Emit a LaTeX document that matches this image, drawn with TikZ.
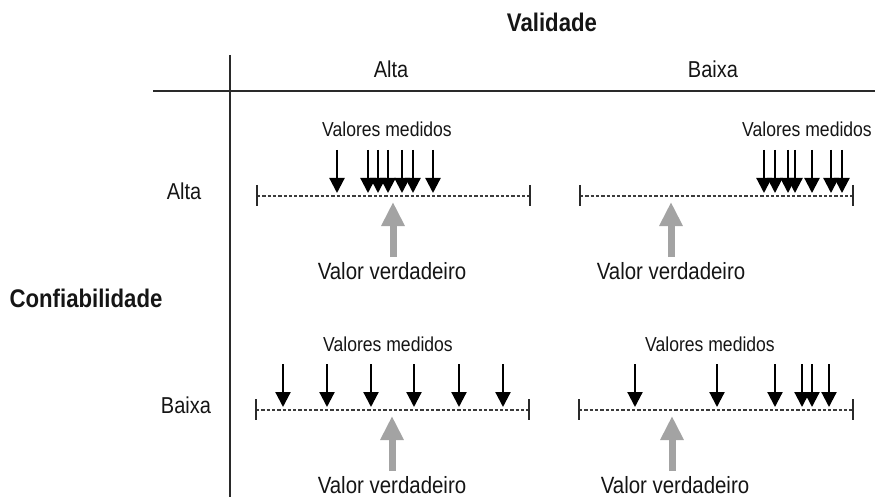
\documentclass[tikz,border=0pt]{standalone}
\usepackage{fontspec}
\setmainfont{Liberation Sans}[FakeStretch=0.87]
\usetikzlibrary{arrows.meta,calc}
\definecolor{txt}{HTML}{151515}
\definecolor{axis}{HTML}{2A2A2A}
\definecolor{dash}{HTML}{3C3C3C}
\definecolor{truegray}{HTML}{A3A3A3}
\tikzset{
  lbl/.style={inner sep=0pt, anchor=base, text=txt},
  meas/.style={lbl, font=\fontsize{20.2}{22}\selectfont},
  truelbl/.style={lbl, font=\fontsize{23.5}{26}\selectfont},
  head/.style={lbl, font=\fontsize{23}{26}\selectfont},
  title/.style={lbl, font=\bfseries\fontsize{25.5}{28}\selectfont},
  axisline/.style={draw=axis, line width=2pt},
  scaleline/.style={draw=dash, line width=1.4pt, dash pattern=on 3.3pt off 2pt},
  endtick/.style={draw=axis, line width=1.7pt},
  measarrow/.style={draw=black, line width=2.2pt, -{Triangle[length=15pt, width=15pt]}},
  truearrow/.style={draw=truegray, line width=7pt, -{Triangle[length=24pt, width=22pt]}},
}
\begin{document}
\begin{tikzpicture}[x=1pt, y=-1pt]
\useasboundingbox (0,0) rectangle (875,497);
% axes
\draw[axisline] (153,91) -- (875,91);
\draw[axisline, line width=1.8pt] (230,55) -- (230,497);
% headings
\node[title] (validade) at (552,32) {Validade};
\node[head] (colalta) at (391,78) {Alta};
\node[head] (colbaixa) at (713,78) {Baixa};
\node[title] (confiab) at (86,307) {Confiabilidade};
\node[head] (rowalta) at (184,200) {Alta};
\node[head] (rowbaixa) at (186,413) {Baixa};
% panels: #1 left, #2 right, #3 line y, #4 arrows, #5 gray x, #6 VM x, #7 VV x, #8 name
\newcommand{\mypanel}[8]{%
  \coordinate (#8L) at (#1,#3);
  \coordinate (#8R) at (#2,#3);
  \draw[scaleline] (#8L) -- (#8R);
  \draw[endtick] ($(#8L)+(0,-11)$) -- ($(#8L)+(0,10)$);
  \draw[endtick] ($(#8R)+(0,-11)$) -- ($(#8R)+(0,10)$);
  \foreach \ax in {#4} {
    \coordinate (#8top\ax) at (\ax,#3-46);
    \coordinate (#8tip\ax) at (\ax,#3-3);
    \draw[measarrow] (#8top\ax) -- (#8tip\ax);
  }
  \coordinate (#8gb) at (#5,#3+61);
  \coordinate (#8gt) at (#5,#3+6);
  \draw[truearrow] (#8gb) -- (#8gt);
  \node[meas] (#8vm) at (#6,#3-59) {Valores medidos};
  \node[truelbl] (#8vv) at (#7,#3+83) {Valor verdadeiro};
}
\mypanel{257}{530}{196}{337,368,378,388,402,413,433}{393}{387}{392}{aa}
\mypanel{580}{853}{196}{764,775,788,795,812,831,842}{671}{807}{671}{ab}
\mypanel{256}{529}{410}{283,327,371,414,459,503}{392}{388}{392}{ba}
\mypanel{579}{853}{410}{635,717,775,802,812,829}{672}{710}{675}{bb}
\end{tikzpicture}
\end{document}
